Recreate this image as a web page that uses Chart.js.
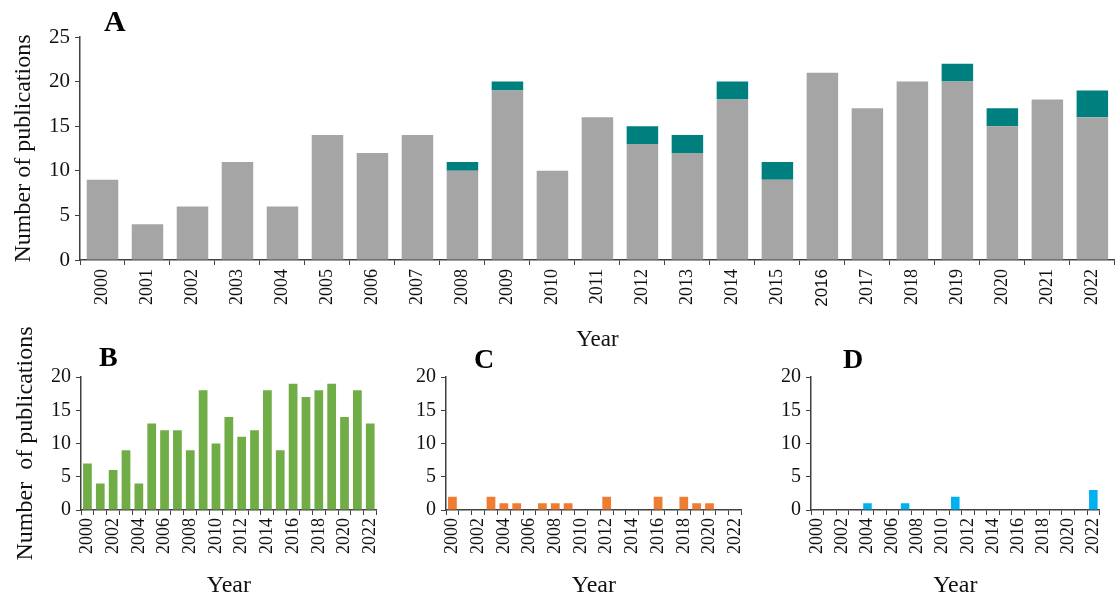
<!DOCTYPE html>
<html>
<head>
<meta charset="utf-8">
<script src="https://cdn.jsdelivr.net/npm/chart.js@4.4.0/dist/chart.umd.min.js"></script>
<style>
    body { margin: 0; background: #fff; }
    #wrap { position: relative; width: 1118px; height: 601px; overflow: hidden; }
    canvas { position: absolute; }
    .tag { position: absolute; font: bold 30px "Liberation Serif", "Times New Roman", serif; line-height: 1; color: #000; }
</style>
</head>
<body>
<div id="wrap">
    <canvas id="chartA" width="1118" height="360" style="left:0;top:0"></canvas>
    <canvas id="chartB" width="395" height="301" style="left:0;top:300px"></canvas>
    <canvas id="chartC" width="365" height="301" style="left:395px;top:300px"></canvas>
    <canvas id="chartD" width="358" height="301" style="left:760px;top:300px"></canvas>
    <div class="tag" style="left:104px;top:6px">A</div>
    <div class="tag" style="left:99px;top:343px;font-size:28px">B</div>
    <div class="tag" style="left:474px;top:345px;font-size:28px">C</div>
    <div class="tag" style="left:843px;top:345px;font-size:28px">D</div>
</div>
<script>
var years = ["2000", "2001", "2002", "2003", "2004", "2005", "2006", "2007", "2008", "2009", "2010", "2011",
    "2012", "2013", "2014", "2015", "2016", "2017", "2018", "2019", "2020", "2021", "2022"];
// panel A: grey part + teal part on top
var greyA = [9, 4, 6, 11, 6, 14, 12, 14, 10, 19, 10, 16, 13, 12, 18, 9, 21, 17, 20, 20, 15, 18, 16];
var tealA = [0, 0, 0, 0, 0, 0, 0, 0, 1, 1, 0, 0, 2, 2, 2, 2, 0, 0, 0, 2, 2, 0, 3];
var dataB = [7, 4, 6, 9, 4, 13, 12, 12, 9, 18, 10, 14, 11, 12, 18, 9, 19, 17, 18, 19, 14, 18, 13];
var dataC = [2, 0, 0, 2, 1, 1, 0, 1, 1, 1, 0, 0, 2, 0, 0, 0, 2, 0, 2, 1, 1, 0, 0];
var dataD = [0, 0, 0, 0, 1, 0, 0, 1, 0, 0, 0, 2, 0, 0, 0, 0, 0, 0, 0, 0, 0, 0, 3];
var yMaxA = 25;
var yMaxSmall = 20;
var yStep = 5;

var serif = '"Liberation Serif", "Times New Roman", serif';
var axisColor = "#404040";

function axisGrid() {
    return {
        display: true,
        drawOnChartArea: false,
        drawTicks: true,
        tickLength: 5,
        color: axisColor,
        lineWidth: 1
    };
}

function fixWidth(w) {
    return function(scale) { scale.width = w; };
}

function fixHeight(h) {
    return function(scale) { scale.height = h; };
}

new Chart("chartA", {
    type: "bar",
    data: {
        labels: years,
        datasets: [{
                label: "grey",
                data: greyA,
                backgroundColor: "#A5A5A5",
                borderWidth: 0,
            },
            {
                label: "teal",
                data: tealA,
                backgroundColor: "#007F7F",
                borderWidth: 0,
            }
        ]
    },
    options: {
        responsive: false,
        animation: false,
        layout: { padding: { top: 37, right: 2, left: 0, bottom: 0 } },
        plugins: { legend: { display: false }, tooltip: { enabled: false } },
        datasets: { bar: { categoryPercentage: 1, barPercentage: 0.7 } },
        scales: {
            x: {
                stacked: true,
                afterFit: fixHeight(100),
                grid: axisGrid(),
                border: { display: true, color: axisColor, width: 1.5 },
                ticks: {
                    autoSkip: false,
                    minRotation: 90,
                    maxRotation: 90,
                    padding: 4,
                    color: "#111",
                    font: function(ctx) {
                        // 2016 is set in a different face in the original
                        if (ctx.index === 16) return { family: '"Liberation Sans", Arial, sans-serif', size: 17 };
                        return { family: serif, size: 18 };
                    }
                },
                title: {
                    display: true,
                    text: "Year",
                    color: "#111",
                    font: { family: serif, size: 23 },
                    padding: { top: 0, bottom: 6 }
                }
            },
            y: {
                stacked: true,
                min: 0,
                max: yMaxA,
                afterFit: fixWidth(80),
                grid: axisGrid(),
                border: { display: true, color: axisColor, width: 1.5 },
                ticks: {
                    stepSize: yStep,
                    padding: 5,
                    color: "#111",
                    font: { family: serif, size: 21 }
                },
                title: {
                    display: true,
                    text: "Number of publications",
                    color: "#111",
                    font: { family: serif, size: 24 },
                    padding: { top: 9, bottom: 0 }
                }
            }
        }
    }
});

function smallPanel(id, values, color, yWidth, padRight, yTitle) {
    var yScale = {
        min: 0,
        max: yMaxSmall,
        afterFit: fixWidth(yWidth),
        grid: axisGrid(),
        border: { display: true, color: axisColor, width: 1.5 },
        ticks: {
            stepSize: yStep,
            padding: 5,
            color: "#111",
            font: { family: serif, size: 20 }
        }
    };
    if (yTitle) {
        yScale.title = {
            display: true,
            text: yTitle,
            color: "#111",
            font: { family: serif, size: 24 },
            padding: { top: 11, bottom: 0 }
        };
    }
    new Chart(id, {
        type: "bar",
        data: {
            labels: years,
            datasets: [{
                data: values,
                backgroundColor: color,
                borderWidth: 0,
            }]
        },
        options: {
            responsive: false,
            animation: false,
            layout: { padding: { top: 77, right: padRight, left: 0, bottom: 0 } },
            plugins: { legend: { display: false }, tooltip: { enabled: false } },
            datasets: { bar: { categoryPercentage: 1, barPercentage: 0.68 } },
            scales: {
                x: {
                    afterFit: fixHeight(91),
                    grid: axisGrid(),
                    border: { display: true, color: axisColor, width: 1.5 },
                    ticks: {
                        autoSkip: false,
                        minRotation: 90,
                        maxRotation: 90,
                        padding: 3,
                        color: "#111",
                        font: { family: serif, size: 18 },
                        callback: function(val, i) {
                            return i % 2 === 0 ? years[i] : "";
                        }
                    },
                    title: {
                        display: true,
                        text: "Year",
                        color: "#111",
                        font: { family: serif, size: 24 },
                        padding: { top: 0, bottom: 1 }
                    }
                },
                y: yScale
            }
        }
    });
}

smallPanel("chartB", dataB, "#70AD47", 81, 8, "Number  of publications");
smallPanel("chartC", dataC, "#ED7D31", 51, 8, null);
smallPanel("chartD", dataD, "#00B0F0", 51, 3, null);
</script>
</body>
</html>
